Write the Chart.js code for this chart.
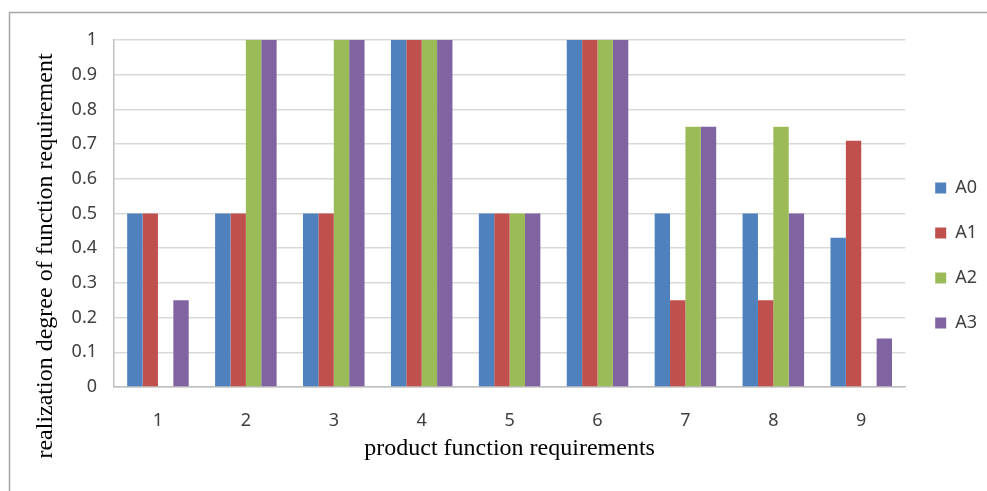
<!DOCTYPE html>
<html lang="en">
<head>
  <meta charset="UTF-8">
  <title>realization degree of function requirement</title>
  <script src="https://cdn.jsdelivr.net/npm/chart.js"></script>
  <style>
    html, body { margin: 0; padding: 0; background: #fff; }
    canvas { display: block; }
  </style>
</head>
<body>
  <canvas id="grafico" width="987" height="491"></canvas>

  <script>
    // data
    const categorias = ["1", "2", "3", "4", "5", "6", "7", "8", "9"];
    const serieA0 = [0.5, 0.5, 0.5, 1, 0.5, 1, 0.5, 0.5, 0.43];
    const serieA1 = [0.5, 0.5, 0.5, 1, 0.5, 1, 0.25, 0.25, 0.71];
    const serieA2 = [0, 1, 1, 1, 0.5, 1, 0.75, 0.75, 0];
    const serieA3 = [0.25, 1, 1, 1, 0.5, 1, 0.75, 0.5, 0.14];
    const nomes = ["A0", "A1", "A2", "A3"];
    const cores = ["#4F81BD", "#C0504D", "#9BBB59", "#8064A2"];

    const tituloY = "realization degree of function requirement";
    const tituloX = "product function requirements";

    const fonteTicks = { family: "'Noto Sans', sans-serif", size: 18 };
    const fonteTitulo = { family: "'Liberation Serif', serif", size: 24 };

    // frame + rotated y title
    const molduraPlugin = {
      id: "moldura",
      beforeDraw(chart) {
        const ctx = chart.ctx;
        ctx.save();
        ctx.strokeStyle = "#a6a6a6";
        ctx.lineWidth = 1.5;
        ctx.beginPath();
        ctx.moveTo(9.5, 491);
        ctx.lineTo(9.5, 12.5);
        ctx.lineTo(987, 12.5);
        ctx.stroke();
        ctx.restore();
      },
      afterDraw(chart) {
        const ctx = chart.ctx;
        ctx.save();
        ctx.translate(52, 256);
        ctx.rotate(-Math.PI / 2);
        ctx.font = "24px 'Liberation Serif', serif";
        ctx.fillStyle = "#000";
        ctx.textAlign = "center";
        ctx.textBaseline = "alphabetic";
        ctx.fillText(tituloY, 0, 0);
        ctx.restore();
      }
    };

    const series = [serieA0, serieA1, serieA2, serieA3];

    new Chart(document.getElementById("grafico"), {
      type: "bar",
      data: {
        labels: categorias,
        datasets: series.map((valores, i) => ({
          label: nomes[i],
          data: valores,
          backgroundColor: cores[i],
          borderWidth: 0,
          categoryPercentage: 0.7,
          barPercentage: 1.0
        }))
      },
      options: {
        responsive: false,
        animation: false,
        layout: { padding: { left: 34, top: 40, right: 0, bottom: 20 } },
        plugins: {
          tooltip: { enabled: false },
          legend: {
            position: "right",
            labels: {
              boxWidth: 11,
              boxHeight: 11,
              padding: 27,
              color: "#404040",
              font: fonteTicks
            }
          }
        },
        scales: {
          x: {
            grid: { display: false, drawTicks: false },
            border: { color: "#bfbfbf", width: 1.5 },
            ticks: { padding: 23, color: "#404040", font: fonteTicks },
            title: {
              display: true,
              text: tituloX,
              color: "#000",
              font: fonteTitulo,
              padding: { top: 0, bottom: 8 }
            },
            afterFit(scale) { scale.height = 84; }
          },
          y: {
            min: 0,
            max: 1,
            grid: { color: "#d9d9d9", lineWidth: 1.5, drawTicks: false },
            border: { color: "#bfbfbf", width: 1.5 },
            ticks: {
              stepSize: 0.1,
              padding: 17,
              color: "#404040",
              font: fonteTicks,
              callback: v => String(Math.round(v * 10) / 10)
            },
            afterFit(scale) { scale.width = 80; }
          },
          // empty strip between the plot and the legend
          folga: {
            type: "linear",
            position: "right",
            grid: { display: false, drawTicks: false },
            border: { display: false },
            ticks: { display: false },
            afterFit(scale) { scale.width = 3; }
          }
        }
      },
      plugins: [molduraPlugin]
    });
  </script>
</body>
</html>
